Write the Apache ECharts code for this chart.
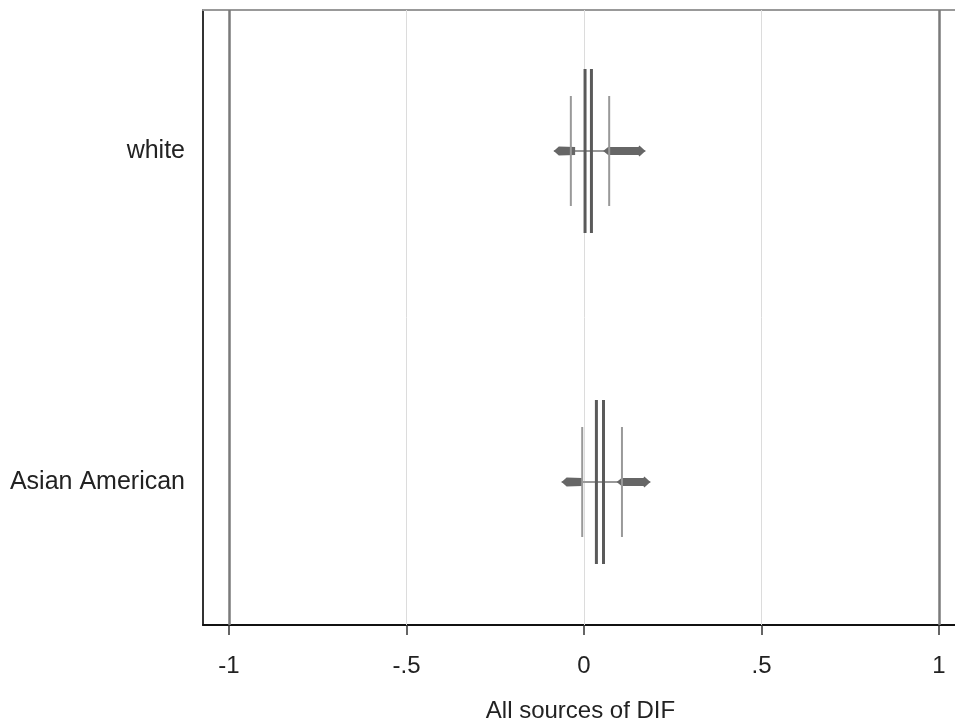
<!DOCTYPE html>
<html>
<head>
<meta charset="utf-8">
<script src="https://cdn.jsdelivr.net/npm/echarts@6/dist/echarts.min.js"></script>
<style>
html,body{margin:0;padding:0;background:#fff;}
#chart{width:955px;height:723px;}
</style>
</head>
<body>
<div id="chart"></div>
<script>
// ---- data ----
const groups = ['Asian American', 'white'];
const groupPos = [1, 2];
const thickLo = [0.035, 0.003];      // inner pair of thick vertical lines
const thickHi = [0.055, 0.021];
const thinLo = [-0.005, -0.037];     // outer pair of thin vertical lines
const thinHi = [0.107, 0.071];
const spanMin = [-0.063, -0.085];    // horizontal extent
const spanMax = [0.187, 0.173];
const denseLoEnd = [-0.006, -0.025]; // end of left dense band
const denseHiStart = [0.092, 0.054]; // start of right dense band
const tickValues = [-1, -0.5, 0, 0.5, 1];
const tickLabels = ['-1', '-.5', '0', '.5', '1'];
const refValues = [-1, 1];
const gridValues = [-0.5, 0, 0.5];

const rows = groups.map((g, i) => [groupPos[i], thickLo[i], thickHi[i], thinLo[i], thinHi[i], spanMin[i], spanMax[i], denseLoEnd[i], denseHiStart[i]]);

const chart = echarts.init(document.getElementById('chart'), null, {renderer: 'canvas'});
const FONT = '"Liberation Sans", Arial, sans-serif';
const XMIN = -1.0732, XMAX = 1.0536;

function renderItem(params, api) {
  const y = api.value(0);
  const P = (x) => api.coord([x, y]);
  const pa = P(api.value(5)), pb = P(api.value(6));
  const pl = P(api.value(7)), pr = P(api.value(8));
  const cy = pa[1];
  const dark = '#666';
  const children = [];
  children.push({type: 'line', shape: {x1: pa[0], y1: cy, x2: pb[0], y2: cy}, style: {stroke: '#999', lineWidth: 2}});
  children.push({type: 'polygon', shape: {points: [
    [pa[0], cy], [pa[0] + 5, cy - 4.5], [pl[0], cy - 4], [pl[0], cy + 4], [pa[0] + 5, cy + 4.5]
  ]}, style: {fill: dark}});
  children.push({type: 'polygon', shape: {points: [
    [pr[0], cy], [pr[0] + 5, cy - 4], [pb[0] - 7, cy - 4], [pb[0] - 6, cy - 5.5], [pb[0], cy],
    [pb[0] - 6, cy + 5.5], [pb[0] - 7, cy + 4], [pr[0] + 5, cy + 4]
  ]}, style: {fill: dark}});
  [3, 4].forEach(k => {
    const p = P(api.value(k));
    children.push({type: 'line', shape: {x1: p[0], y1: cy - 55, x2: p[0], y2: cy + 55}, style: {stroke: '#999', lineWidth: 2}});
  });
  [1, 2].forEach(k => {
    const p = P(api.value(k));
    children.push({type: 'line', shape: {x1: p[0], y1: cy - 82, x2: p[0], y2: cy + 82}, style: {stroke: '#5a5a5a', lineWidth: 3}});
  });
  return {type: 'group', children};
}

const markData = [];
gridValues.forEach(v => markData.push({xAxis: v, lineStyle: {color: '#dcdcdc', width: 1, type: 'solid'}}));
refValues.forEach(v => markData.push({xAxis: v, lineStyle: {color: '#7a7a7a', width: 2.5, type: 'solid'}}));

chart.setOption({
  animation: false,
  backgroundColor: '#fff',
  grid: {left: 203, top: 10, right: -3, bottom: 98, show: false, outerBoundsMode: 'none', containLabel: false},
  xAxis: [{
    type: 'value', min: XMIN, max: XMAX,
    name: 'All sources of DIF', nameLocation: 'middle', nameGap: 74,
    nameTextStyle: {fontFamily: FONT, fontSize: 24, color: '#222'},
    axisLine: {show: true, onZero: false, lineStyle: {color: '#111', width: 2}},
    axisTick: {show: true, customValues: tickValues, length: 10, lineStyle: {color: '#333', width: 1.5}},
    axisLabel: {customValues: tickValues, margin: 29, fontFamily: FONT, fontSize: 24, color: '#222',
      formatter: v => tickLabels[tickValues.indexOf(v)] ?? ''},
    splitLine: {show: false}
  }, {
    type: 'value', position: 'top', min: XMIN, max: XMAX,
    axisLine: {show: true, onZero: false, lineStyle: {color: '#999', width: 2}},
    axisTick: {show: false}, axisLabel: {show: false}, splitLine: {show: false}
  }],
  yAxis: {
    type: 'value', min: 0.568, max: 2.426,
    axisLine: {show: true, onZero: false, lineStyle: {color: '#333', width: 2}},
    axisTick: {show: false},
    axisLabel: {customValues: groupPos, margin: 18, fontFamily: FONT, fontSize: 25, color: '#222',
      formatter: v => groups[groupPos.indexOf(v)] ?? ''},
    splitLine: {show: false}
  },
  series: [{
    type: 'custom',
    renderItem: renderItem,
    encode: {x: [1, 2, 3, 4, 5, 6, 7, 8], y: 0},
    data: rows,
    silent: true,
    z: 5,
    markLine: {silent: true, symbol: 'none', label: {show: false}, data: markData, z: 1, animation: false}
  }]
});
</script>
</body>
</html>
